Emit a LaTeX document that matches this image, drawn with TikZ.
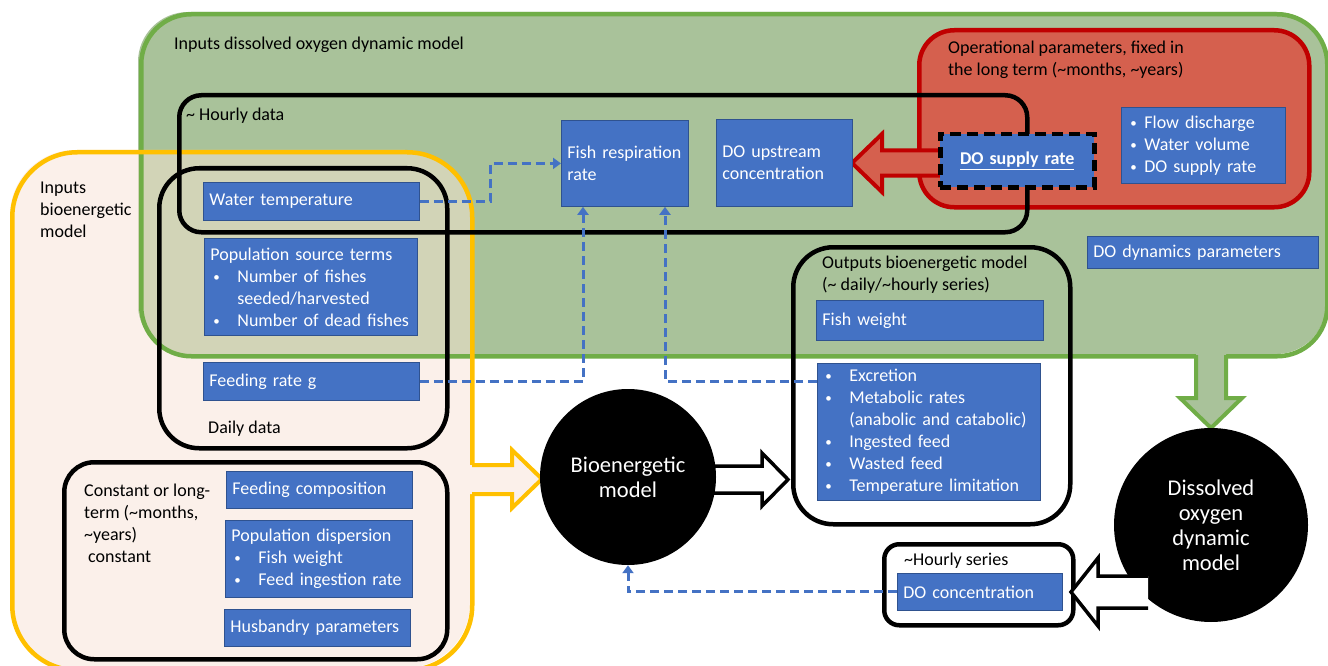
\documentclass[tikz,border=0pt]{standalone}
\usepackage{fontspec}
\setmainfont{Carlito}
\usetikzlibrary{arrows.meta,calc}
\definecolor{gfill}{HTML}{A9C29A}
\definecolor{gline}{HTML}{70AD47}
\definecolor{yfill}{HTML}{FBF0EA}
\definecolor{yline}{HTML}{FFC000}
\definecolor{ovl}{HTML}{D2D4B7}
\definecolor{rfill}{HTML}{D5604E}
\definecolor{rline}{HTML}{C00000}
\definecolor{bfill}{HTML}{4472C4}
\definecolor{bline}{HTML}{2F528F}
\newcommand\bu[1]{\makebox[#1][l]{\raisebox{1pt}{\fontsize{13}{13}\selectfont\textbullet}}}
\tikzset{
  txt/.style={font=\fontsize{18}{22}\selectfont, align=left, inner sep=0pt, text=black},
  bluebox/.style={draw=bline, line width=0.8pt, fill=bfill, text=white,
    font=\fontsize{18}{22}\selectfont, align=left, anchor=north west,
    inner xsep=6pt, inner ysep=0pt},
  contbox/.style={draw=black, line width=4.5pt, anchor=north west, inner sep=0pt},
  bigcirc/.style={circle, fill=black, text=white, inner sep=0pt, align=center,
    font=\fontsize{22.5}{25}\selectfont},
  dashc/.style={draw=bfill, line width=3pt, dash pattern=on 9pt off 5pt,
    -{Triangle[width=11pt,length=8pt]}},
}
\begin{document}
\begin{tikzpicture}[x=1pt,y=-1pt]
\useasboundingbox (0,0) rectangle (1328,666);
% big containers
\fill[yfill, rounded corners=65pt] (10,150) rectangle (470,668);
\fill[gfill, rounded corners=50pt] (138,12) rectangle (1326,354);
\begin{scope}
\clip[rounded corners=50pt] (138,12) rectangle (1326,354);
\fill[ovl, rounded corners=65pt] (10,150) rectangle (470,668);
\end{scope}
\node[draw=gline, line width=4.5pt, rounded corners=50pt, anchor=north west, inner sep=0pt,
  minimum width=1186pt, minimum height=342pt] (green) at (139,12) {};
\node[draw=yline, line width=4.5pt, rounded corners=65pt, anchor=north west, inner sep=0pt,
  minimum width=460pt, minimum height=518pt] (yellow) at (10,150) {};
\node[draw=rline, fill=rfill, line width=4.5pt, rounded corners=35pt, anchor=north west, inner sep=0pt,
  minimum width=390pt, minimum height=177pt] (red) at (917,28) {};

% labels
\node[txt, anchor=west] (lgreen) at (174,45) {Inputs dissolved oxygen dynamic model};
\node[txt, anchor=west] (lred) at (948,60) {Operational parameters, fixed in\\the long term (\textasciitilde months, \textasciitilde years)};
\node[txt, anchor=west] (lyellow) at (40,210) {Inputs\\bioenergetic\\model};

% black containers
\node[contbox, rounded corners=22pt, minimum width=848pt, minimum height=137pt] (hourly) at (177,93) {};
\node[contbox, rounded corners=40pt, minimum width=288pt, minimum height=280pt] (daily) at (157,166) {};
\node[contbox, rounded corners=30pt, minimum width=383pt, minimum height=197pt] (const) at (62,460) {};
\node[contbox, rounded corners=40pt, minimum width=277pt, minimum height=277pt] (outbox) at (791,245) {};
\node[contbox, rounded corners=15pt, minimum width=189pt, minimum height=81pt] (hsbox) at (882,542) {};

\node[txt, anchor=west] (lhourly) at (186,116) {\textasciitilde{} Hourly data};
\node[txt, anchor=west] (ldaily) at (208,429) {Daily data};
\node[txt, anchor=west] (lconst) at (84,523) {Constant or long-\\term (\textasciitilde months,\\\textasciitilde years)\\\hspace*{4pt}constant};
\node[txt, anchor=west] (lout) at (822,275) {Outputs bioenergetic model\\(\textasciitilde{} daily/\textasciitilde hourly series)};
\node[txt, anchor=west] (lhs) at (904,561) {\textasciitilde Hourly series};

% red block arrow
\filldraw[fill=rfill, draw=rline, line width=4pt, line join=miter]
  (945,150.5) -- (882,150.5) -- (882,134) -- (852,163) -- (882,192) -- (882,175.5) -- (945,175.5);
\fill[rfill] (936,153) rectangle (946,173);

% blue boxes
\node[bluebox, text width=204pt, minimum height=38pt] (wt) at (203,182) {Water temperature};
\node[bluebox, text width=201pt, minimum height=97pt] (pst) at (204,238)
  {Population source terms\\\hspace*{3pt}\bu{24pt}Number of fishes\\\hspace*{27pt}seeded/harvested\\\hspace*{3pt}\bu{24pt}Number of dead fishes};
\node[bluebox, text width=204pt, minimum height=38pt] (frg) at (203,362) {Feeding rate g};
\node[bluebox, text width=115pt, minimum height=86pt] (fresp) at (561,120) {Fish respiration\\rate};
\node[bluebox, text width=124pt, minimum height=87pt] (doup) at (716,119) {DO upstream\\concentration};
\node[bluebox, draw=black, line width=4.5pt, dash pattern=on 11pt off 6pt, text width=142pt,
  minimum height=53pt, align=center] (dosr) at (938,132) {\textbf{\underline{DO supply rate}}};
\node[bluebox, minimum height=76pt, inner xsep=0pt, text width=164pt] (flow) at (1121,107)
  {\hspace*{9pt}\bu{14pt}Flow discharge\\\hspace*{9pt}\bu{14pt}Water volume\\\hspace*{9pt}\bu{14pt}DO supply rate};
\node[bluebox, text width=219pt, minimum height=32pt] (dodyn) at (1087,236) {DO dynamics parameters};
\node[bluebox, text width=215pt, minimum height=40pt] (fw) at (816,300) {Fish weight};
\node[bluebox, inner xsep=0pt, text width=223pt, minimum height=137pt] (exc) at (817,363)
  {\hspace*{8pt}\bu{24pt}Excretion\\\hspace*{8pt}\bu{24pt}Metabolic rates\\\hspace*{32pt}(anabolic and catabolic)\\\hspace*{8pt}\bu{24pt}Ingested feed\\\hspace*{8pt}\bu{24pt}Wasted feed\\\hspace*{8pt}\bu{24pt}Temperature limitation};
\node[bluebox, text width=153pt, minimum height=37pt] (docon) at (897,573) {DO concentration};
\node[bluebox, text width=174pt, minimum height=37pt] (fcomp) at (226,471) {Feeding composition};
\node[bluebox, inner xsep=0pt, text width=187pt, minimum height=77pt] (pdisp) at (225,520)
  {\hspace*{6pt}Population dispersion\\\hspace*{9pt}\bu{24pt}Fish weight\\\hspace*{9pt}\bu{24pt}Feed ingestion rate};
\node[bluebox, text width=174pt, minimum height=37pt] (husb) at (224,609) {Husbandry parameters};

% green block arrow
\fill[gfill] (1196,352) -- (1196,398) -- (1180,398) -- (1211,428) -- (1242,398) -- (1226,398) -- (1226,352) -- cycle;
\draw[gline, line width=4pt, line join=miter] (1196,355) -- (1196,398) -- (1180,398) -- (1211,428) -- (1242,398) -- (1226,398) -- (1226,355);

% yellow block arrow
\fill[yfill] (470,465) -- (512,465) -- (512,450) -- (542,479) -- (512,508) -- (512,494) -- (470,494) -- cycle;
\draw[yline, line width=4pt, line join=miter] (472,465) -- (512,465) -- (512,450) -- (542,479) -- (512,508) -- (512,494) -- (472,494);

% black block arrow (bio -> outputs)
\filldraw[fill=white, draw=black, line width=3.5pt, line join=miter]
  (700,466) -- (762,466) -- (762,453) -- (788,479.5) -- (762,506) -- (762,493) -- (700,493) -- cycle;

% circles
\node[bigcirc, minimum size=176pt] (bio) at (628,477) {Bioenergetic\\model};
\node[bigcirc, minimum size=194pt] (dom) at (1211,525) {Dissolved\\oxygen\\dynamic\\model};

% white block arrow (DO model -> hourly series)
\filldraw[fill=white, draw=black, line width=3.5pt, line join=miter]
  (1148,576) -- (1098,576) -- (1098,558) -- (1071,592) -- (1098,626) -- (1098,608) -- (1148,608);

% dashed connectors
\draw[dashc] (wt.east) -- ($(wt.east)+(71,0)$) |- (fresp.west);
\draw[dashc] (frg.east) -| ($(fresp.south west)+(22,0)$);
\draw[dashc] ($(exc.north west)+(0,18)$) -| ($(fresp.south west)+(104,0)$);
\draw[dashc] (docon.west) -| (bio.south);
\end{tikzpicture}
\end{document}
